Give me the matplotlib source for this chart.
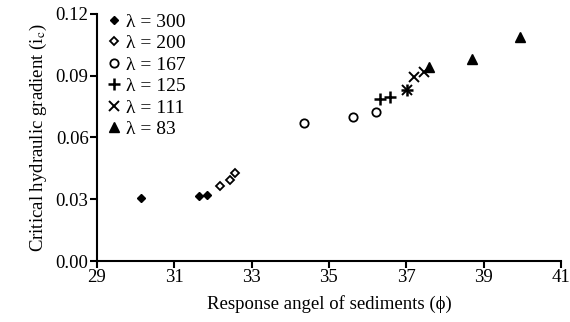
import matplotlib
matplotlib.use("Agg")
import matplotlib.pyplot as plt

plt.rcParams["font.family"] = ["Liberation Serif", "DejaVu Serif"]
plt.rcParams["mathtext.fontset"] = "stix"

# data
x300 = [30.13, 31.65, 31.85]
y300 = [0.0306, 0.0316, 0.0320]
x200 = [32.18, 32.44, 32.57]
y200 = [0.0364, 0.0392, 0.0426]
x167 = [34.35, 35.63, 36.22]
y167 = [0.0670, 0.0700, 0.0722]
x125 = [36.33, 36.57, 37.02]
y125 = [0.0786, 0.0796, 0.0832]
x111 = [37.02, 37.19, 37.47]
y111 = [0.0832, 0.0894, 0.0920]
x83 = [37.60, 38.69, 39.95]
y83 = [0.0940, 0.0983, 0.1087]

xticks = [29, 31, 33, 35, 37, 39, 41]
yticks = [0.00, 0.03, 0.06, 0.09, 0.12]

fig = plt.figure(figsize=(5.7, 3.22), dpi=100)
ax = fig.add_axes([0.170, 0.189, 0.814, 0.768])

ax.plot(x300, y300, "D", ms=4, color="black", mfc="black", mew=1, ls="none", label="λ = 300")
ax.plot(x200, y200, "D", ms=4.5, color="black", mfc="white", mew=1.3, ls="none", label="λ = 200")
ax.plot(x167, y167, "o", ms=6, color="black", mfc="white", mew=1.3, ls="none", label="λ = 167")
ax.plot(x125, y125, "+", ms=8, color="black", mew=1.8, ls="none", label="λ = 125")
ax.plot(x111, y111, "x", ms=7, color="black", mew=1.4, ls="none", label="λ = 111")
ax.plot(x83, y83, "^", ms=6.5, color="black", ls="none", label="λ = 83")

ax.set_xlim(29, 41)
ax.set_ylim(0, 0.12)
ax.set_xticks(xticks)
ax.set_yticks(yticks)
ax.set_yticklabels([f"{v:.2f}" for v in yticks])
ax.spines["top"].set_visible(False)
ax.spines["right"].set_visible(False)
ax.spines["left"].set_linewidth(1.5)
ax.spines["bottom"].set_linewidth(1.5)
ax.tick_params(direction="out", length=5, width=1.5, labelsize=13.5, pad=1)

ax.set_xlabel("Response angel of sediments (ϕ)", fontsize=13.5, labelpad=6)
ax.set_ylabel(r"Critical hydraulic gradient (i$_{\mathrm{c}}$)", fontsize=13.5, labelpad=5)

ax.legend(loc="upper left", frameon=False, fontsize=14, handlelength=0.6,
          handletextpad=0.3, labelspacing=0.2, borderaxespad=0.2,
          bbox_to_anchor=(0.0, 1.05))

fig.savefig("out.png", dpi=100)
